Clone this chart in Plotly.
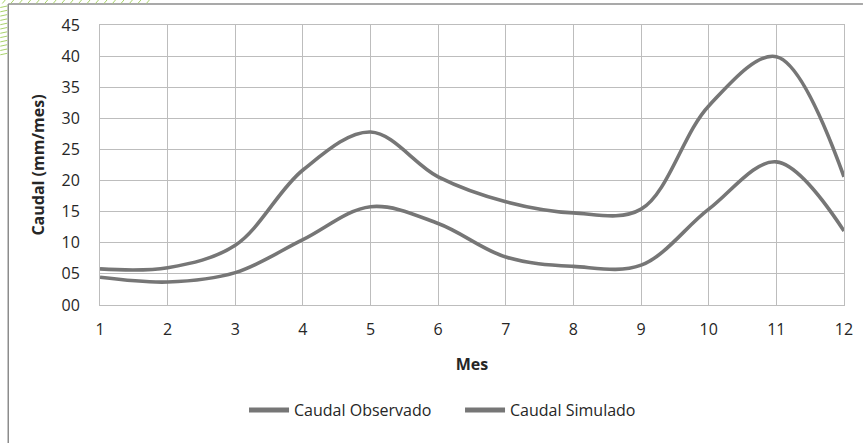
import plotly.graph_objects as go

# Monthly flow data (mm/mes)
meses = list(range(1, 13))
caudal_observado = [5.8, 6.0, 9.6, 21.7, 27.8, 20.6, 16.6, 14.8, 15.4, 32.0, 39.9, 20.6]
caudal_simulado = [4.45, 3.7, 5.2, 10.5, 15.8, 13.1, 7.7, 6.2, 6.4, 15.4, 23.0, 11.9]
y_ticks = list(range(0, 50, 5))

W, H = 865, 443
ML, MR, MT, MB = 100, 19, 25, 138
PW, PH = W - ML - MR, H - MT - MB

LINE_COLOR = "#767676"
GRID_COLOR = "#bdbdbd"
FONT = "Open Sans"


def px_x(p):
    return (p - ML) / PW


def px_y(p):
    return (H - MB - p) / PH


fig = go.Figure()
fig.add_trace(go.Scatter(
    x=meses, y=caudal_observado, name="Caudal Observado", mode="lines",
    line=dict(color=LINE_COLOR, width=3.6, shape="spline", smoothing=1.0),
))
fig.add_trace(go.Scatter(
    x=meses, y=caudal_simulado, name="Caudal Simulado", mode="lines",
    line=dict(color=LINE_COLOR, width=3.6, shape="spline", smoothing=1.0),
))

# Outer frame (top and left edges) and decorative green hatching
shapes = [
    dict(type="line", xref="paper", yref="paper",
         x0=px_x(8), y0=px_y(4), x1=px_x(W), y1=px_y(4),
         line=dict(color="#8c8c8c", width=1.5)),
    dict(type="line", xref="paper", yref="paper",
         x0=px_x(8), y0=px_y(4), x1=px_x(8), y1=px_y(H),
         line=dict(color="#8c8c8c", width=1.5)),
]
for k in range(18):
    x0 = 2 + k * 8.5
    shapes.append(dict(type="line", xref="paper", yref="paper",
                       x0=px_x(x0), y0=px_y(3.5), x1=px_x(x0 + 3), y1=px_y(0),
                       line=dict(color="#a9d36b", width=1)))
for k in range(12):
    y0 = 6 + k * 4.3
    shapes.append(dict(type="line", xref="paper", yref="paper",
                       x0=px_x(0), y0=px_y(y0 + 1.5), x1=px_x(7), y1=px_y(y0),
                       line=dict(color="#a9d36b", width=1)))

fig.update_layout(
    width=W, height=H,
    margin=dict(l=ML, r=MR, t=MT, b=MB),
    paper_bgcolor="white", plot_bgcolor="white",
    font=dict(family=FONT, size=16, color="#262626"),
    showlegend=True,
    legend=dict(orientation="h", x=px_x(461), xanchor="center",
                y=px_y(410), yanchor="middle", itemwidth=40,
                entrywidth=161, entrywidthmode="pixels",
                font=dict(family=FONT, size=16, color="#262626"),
                tracegroupgap=0, itemsizing="constant"),
    shapes=shapes,
)

fig.update_xaxes(
    range=[1, 12], tickmode="array", tickvals=meses,
    showgrid=True, gridcolor=GRID_COLOR, gridwidth=1,
    showline=True, linecolor=GRID_COLOR, linewidth=1, mirror=True,
    zeroline=False, ticks="", ticklabelstandoff=10,
    title=dict(text="<b>Mes</b>", font=dict(family=FONT, size=16, color="#262626"),
               standoff=19),
)
fig.update_yaxes(
    range=[0, 45], tickmode="array", tickvals=y_ticks,
    ticktext=[f"{v:02d}" for v in y_ticks],
    showgrid=True, gridcolor=GRID_COLOR, gridwidth=1,
    showline=True, linecolor=GRID_COLOR, linewidth=1, mirror=True,
    zeroline=False, ticks="", ticklabelstandoff=16,
    title=dict(text="<b>Caudal (mm/mes)</b>", font=dict(family=FONT, size=16, color="#262626"),
               standoff=12),
)

fig.write_html("out.html")
